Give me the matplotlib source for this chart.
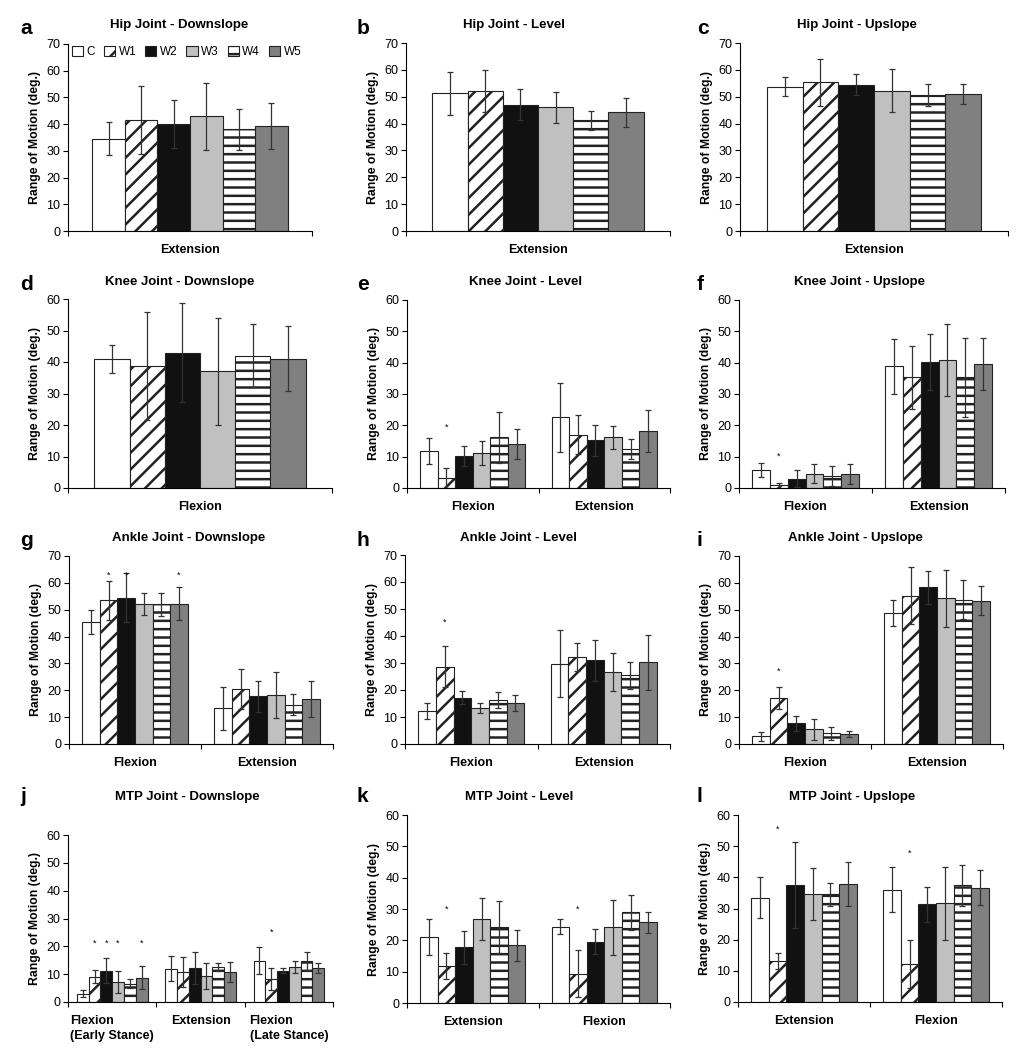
import numpy as np
import matplotlib.pyplot as plt

plt.rcParams['font.family'] = ['Liberation Sans', 'DejaVu Sans']
plt.rcParams['hatch.linewidth'] = 1.8

# series (same order in every panel)
series = ['C', 'W1', 'W2', 'W3', 'W4', 'W5']
fills = ['white', 'white', '#111111', '#c0c0c0', 'white', '#808080']
hatches = [None, '//', None, None, '--', None]

# ---- data: means and SD per category, one row per category ----
hip_down_cats = ['Extension']
hip_down_mean = [[34.5, 41.5, 40.0, 43.0, 38.0, 39.3]]
hip_down_sd = [[6.2, 12.7, 8.9, 12.5, 7.8, 8.6]]

hip_level_cats = ['Extension']
hip_level_mean = [[51.2, 52.0, 47.1, 46.0, 41.2, 44.2]]
hip_level_sd = [[7.9, 7.8, 5.9, 5.9, 3.5, 5.4]]

hip_up_cats = ['Extension']
hip_up_mean = [[53.8, 55.3, 54.5, 52.3, 50.8, 51.0]]
hip_up_sd = [[3.7, 8.7, 4.0, 8.1, 4.1, 3.6]]

knee_down_cats = ['Flexion']
knee_down_mean = [[41.0, 38.7, 43.0, 37.0, 42.0, 41.0]]
knee_down_sd = [[4.5, 17.1, 15.8, 17.0, 10.0, 10.3]]

knee_level_cats = ['Flexion', 'Extension']
knee_level_mean = [[11.8, 3.3, 10.2, 11.2, 16.2, 14.1],
                   [22.6, 17.0, 15.2, 16.2, 12.3, 18.2]]
knee_level_sd = [[4.1, 3.2, 3.2, 3.8, 8.2, 4.8],
                 [11.0, 6.2, 5.0, 3.6, 3.2, 6.6]]

knee_up_cats = ['Flexion', 'Extension']
knee_up_mean = [[5.8, 0.8, 3.0, 4.6, 3.8, 4.5],
                [38.8, 35.3, 40.2, 40.8, 35.3, 39.6]]
knee_up_sd = [[2.2, 0.8, 2.6, 3.0, 3.3, 3.1],
              [8.7, 10.0, 8.8, 11.4, 12.7, 8.2]]

ankle_down_cats = ['Flexion', 'Extension']
ankle_down_mean = [[45.4, 53.5, 54.5, 52.1, 52.0, 52.3],
                   [13.3, 20.5, 17.8, 18.3, 14.7, 16.8]]
ankle_down_sd = [[4.6, 7.2, 9.2, 4.1, 4.2, 6.2],
                 [8.0, 7.5, 5.8, 8.5, 3.8, 6.6]]

ankle_level_cats = ['Flexion', 'Extension']
ankle_level_mean = [[12.3, 28.7, 17.1, 13.2, 16.3, 15.3],
                    [29.8, 32.1, 31.0, 26.8, 25.4, 30.3]]
ankle_level_sd = [[3.0, 7.6, 2.4, 1.9, 2.8, 3.0],
                  [12.4, 5.2, 7.5, 7.0, 4.9, 10.2]]

ankle_up_cats = ['Flexion', 'Extension']
ankle_up_mean = [[2.8, 17.2, 7.7, 5.4, 4.0, 3.7],
                 [48.7, 55.2, 58.4, 54.3, 53.7, 53.4]]
ankle_up_sd = [[1.5, 4.2, 2.8, 4.0, 2.5, 1.1],
               [4.9, 10.6, 6.2, 10.6, 7.3, 5.5]]

mtp_down_cats = ['Flexion\n(Early Stance)', 'Extension', 'Flexion\n(Late Stance)']
mtp_down_mean = [[3.0, 9.1, 11.3, 7.2, 6.6, 8.8],
                 [12.0, 10.7, 12.2, 9.3, 12.7, 10.9],
                 [14.9, 8.3, 11.3, 12.7, 14.7, 12.2]]
mtp_down_sd = [[1.3, 2.4, 4.4, 4.0, 1.7, 4.0],
               [4.5, 5.3, 5.9, 4.7, 1.4, 3.6],
               [4.8, 4.0, 1.0, 2.2, 3.2, 1.8]]

mtp_level_cats = ['Extension', 'Flexion']
mtp_level_mean = [[21.0, 11.8, 17.8, 26.8, 24.2, 18.4],
                  [24.4, 9.4, 19.6, 24.2, 29.0, 25.7]]
mtp_level_sd = [[5.8, 4.2, 5.2, 6.6, 8.2, 5.0],
                [2.4, 7.4, 4.0, 8.8, 5.6, 3.3]]

mtp_up_cats = ['Extension', 'Flexion']
mtp_up_mean = [[33.4, 13.1, 37.5, 34.6, 34.5, 37.8],
               [36.0, 12.2, 31.3, 31.7, 37.4, 36.7]]
mtp_up_sd = [[6.6, 2.5, 13.9, 8.4, 3.7, 7.0],
             [7.2, 7.7, 5.5, 11.7, 6.6, 5.5]]

# significance stars: (category, series, height)
knee_level_stars = [(0, 1, 19.5)]
knee_up_stars = [(0, 1, 10.0)]
ankle_down_stars = [(0, 1, 63.0), (0, 2, 63.0), (0, 5, 63.0)]
ankle_level_stars = [(0, 1, 45.0)]
ankle_up_stars = [(0, 1, 27.0)]
mtp_down_stars = [(0, 1, 21.0), (0, 2, 21.0), (0, 3, 21.0), (0, 5, 21.0), (2, 1, 25.0)]
mtp_level_stars = [(0, 1, 30.0), (1, 1, 30.0)]
mtp_up_stars = [(0, 1, 55.5), (1, 1, 47.8)]

W, H = 1026, 1050
fig = plt.figure(figsize=(W / 100, H / 100), dpi=100)


def panel(box, letter, lpos, title, tpos, cats, means, sds, ymax, stars=(), legend=False):
    l, t, r, b = box
    ax = fig.add_axes([l / W, 1 - b / H, (r - l) / W, (b - t) / H])
    n = len(cats)
    bw = 0.8 / 6
    for k in range(6):
        x = np.arange(n) + 0.1 + bw * (k + 0.5)
        ax.bar(x, [m[k] for m in means], bw, yerr=[s[k] for s in sds],
               color=fills[k], hatch=hatches[k], edgecolor='#222222', linewidth=0.8,
               error_kw=dict(ecolor='#333333', elinewidth=0.9, capsize=2.5, capthick=0.9),
               label=series[k])
    for c, k, y in stars:
        ax.text(c + 0.1 + bw * (k + 0.5), y, '*', ha='center', va='center', fontsize=6.5)
    ax.set_xlim(0, n)
    ax.set_ylim(0, ymax)
    ax.set_yticks(np.arange(0, ymax + 1, 10))
    ax.set_xticks(np.arange(n) + 0.5)
    ax.set_xticklabels(cats, fontsize=9, fontweight='bold', ma='left', linespacing=1.35)
    ax.set_xticks(np.arange(n + 1), minor=True)
    ax.tick_params(axis='x', which='major', length=0, pad=9.5)
    ax.tick_params(axis='x', which='minor', length=3.5, width=0.8, direction='out')
    ax.tick_params(axis='y', labelsize=9, length=3.5, width=0.8, pad=2)
    for s in ['top', 'right']:
        ax.spines[s].set_visible(False)
    for s in ['left', 'bottom']:
        ax.spines[s].set_linewidth(0.8)
    ax.set_ylabel('Range of Motion (deg.)', fontsize=8.8, fontweight='bold', labelpad=4)
    fig.text(tpos[0] / W, 1 - tpos[1] / H, title, ha='center', va='center',
             fontsize=9.5, fontweight='bold')
    fig.text(lpos[0] / W, 1 - lpos[1] / H, letter, ha='left', va='center',
             fontsize=15, fontweight='bold')
    if legend:
        ax.legend(loc='upper left', bbox_to_anchor=(0.015, 0.99), ncol=6, frameon=False,
                  fontsize=8.5, handlelength=0.95, handleheight=0.95, handletextpad=0.3,
                  columnspacing=0.75, borderpad=0, borderaxespad=0)
    return ax


panel((68, 44, 312, 231), 'a', (20, 28), 'Hip Joint - Downslope', (179, 25),
      hip_down_cats, hip_down_mean, hip_down_sd, 70, legend=True)
panel((406, 43, 670, 231), 'b', (357, 28), 'Hip Joint - Level', (514, 25),
      hip_level_cats, hip_level_mean, hip_level_sd, 70)
panel((740, 43, 1008, 231), 'c', (697, 28), 'Hip Joint - Upslope', (857, 25),
      hip_up_cats, hip_up_mean, hip_up_sd, 70)

panel((68, 299, 332, 488), 'd', (20, 285), 'Knee Joint - Downslope', (180, 282),
      knee_down_cats, knee_down_mean, knee_down_sd, 60)
panel((407, 300, 670, 488), 'e', (357, 285), 'Knee Joint - Level', (526, 282),
      knee_level_cats, knee_level_mean, knee_level_sd, 60, knee_level_stars)
panel((739, 300, 1005, 488), 'f', (697, 285), 'Knee Joint - Upslope', (860, 282),
      knee_up_cats, knee_up_mean, knee_up_sd, 60, knee_up_stars)

panel((69, 556, 333, 744), 'g', (20, 540), 'Ankle Joint - Downslope', (189, 538),
      ankle_down_cats, ankle_down_mean, ankle_down_sd, 70, ankle_down_stars)
panel((405, 555, 670, 744), 'h', (357, 540), 'Ankle Joint - Level', (519, 538),
      ankle_level_cats, ankle_level_mean, ankle_level_sd, 70, ankle_level_stars)
panel((739, 556, 1003, 744), 'i', (697, 540), 'Ankle Joint - Upslope', (855, 538),
      ankle_up_cats, ankle_up_mean, ankle_up_sd, 70, ankle_up_stars)

panel((68, 835, 333, 1002), 'j', (20, 797), 'MTP Joint - Downslope', (187, 797),
      mtp_down_cats, mtp_down_mean, mtp_down_sd, 60, mtp_down_stars)
panel((407, 815, 670, 1003), 'k', (357, 797), 'MTP Joint - Level', (519, 797),
      mtp_level_cats, mtp_level_mean, mtp_level_sd, 60, mtp_level_stars)
panel((738, 815, 1002, 1002), 'l', (697, 797), 'MTP Joint - Upslope', (852, 797),
      mtp_up_cats, mtp_up_mean, mtp_up_sd, 60, mtp_up_stars)

fig.savefig('out.png', dpi=100, facecolor='white')
